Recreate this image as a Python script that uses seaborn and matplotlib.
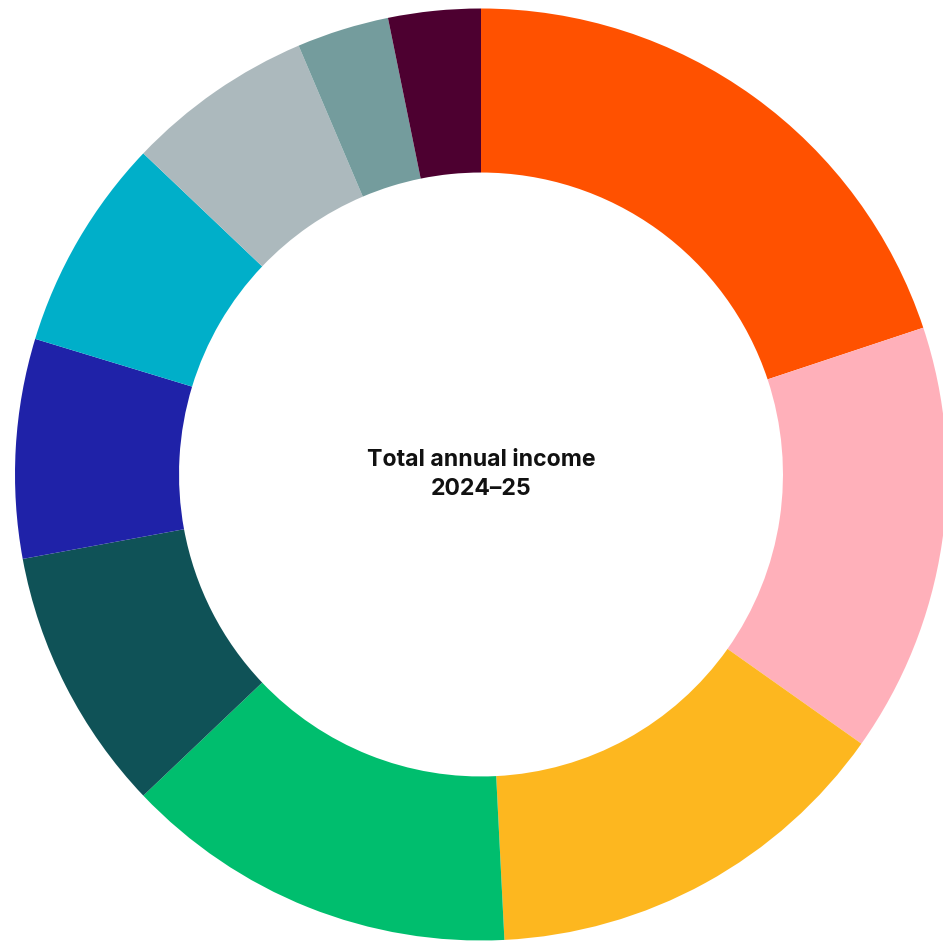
import matplotlib
matplotlib.use("Agg")
import matplotlib.pyplot as plt
import seaborn as sns

categories = ["Segment 1", "Segment 2", "Segment 3", "Segment 4", "Segment 5",
              "Segment 6", "Segment 7", "Segment 8", "Segment 9", "Segment 10"]
values = [19.9, 14.9, 14.4, 13.7, 9.2, 7.6, 7.4, 6.5, 3.2, 3.2]
colors = ["#FF5100", "#FFB0BA", "#FDB71F", "#00BE6E", "#0F5257",
          "#1F22A8", "#00AFC9", "#ACB9BD", "#749C9D", "#4D0030"]
center_title = "Total annual income\n2024\u201325"

sns.set_theme(style="white")
plt.rcParams['font.family'] = ['Inter', 'DejaVu Sans']
palette = sns.color_palette(colors)

fig = plt.figure(figsize=(9.43, 9.44), dpi=100)
W, H = 943, 944
cx, cy, r = 481, 474.5, 466
ax = fig.add_axes([(cx - r) / W, (H - cy - r) / H, 2 * r / W, 2 * r / H])
ax.pie(values, colors=palette, startangle=90, counterclock=False,
       radius=1.0, wedgeprops=dict(width=0.352, edgecolor="none", linewidth=0))
ax.set_xlim(-1, 1)
ax.set_ylim(-1, 1)
ax.set_aspect("equal")
ax.axis("off")
ax.text(0, 0, center_title, ha="center", va="center", fontsize=16.6,
        fontweight="bold", color="#111111", linespacing=1.45)

fig.savefig("out.png", dpi=100, facecolor="white")
